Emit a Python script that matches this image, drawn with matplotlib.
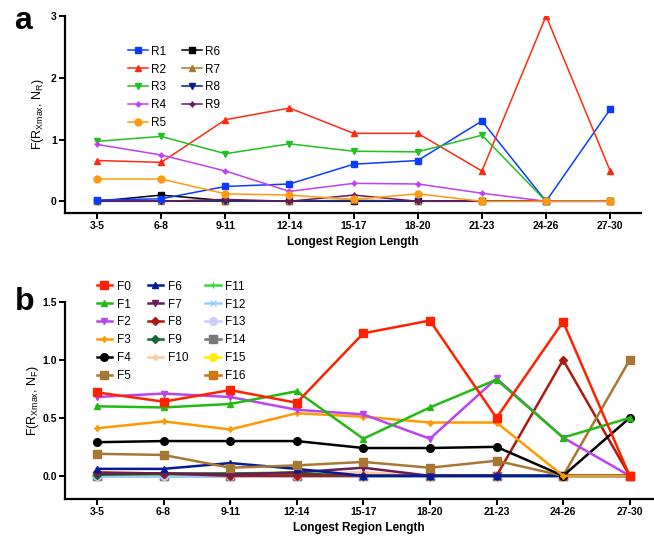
import matplotlib
matplotlib.use("Agg")
import matplotlib.pyplot as plt
from matplotlib.lines import Line2D

plt.rcParams["font.family"] = ["Liberation Sans", "DejaVu Sans"]
plt.rcParams["mathtext.fontset"] = "custom"
plt.rcParams["mathtext.rm"] = "Liberation Sans"
plt.rcParams["mathtext.it"] = "Liberation Sans"

lengths = ["3-5", "6-8", "9-11", "12-14", "15-17", "18-20", "21-23", "24-26", "27-30"]

# panel a: regions
r_labels = ["R1", "R2", "R3", "R4", "R5", "R6", "R7", "R8", "R9"]
R1 = [0.02, 0.04, 0.24, 0.28, 0.60, 0.66, 1.30, 0.0, 1.49]
R2 = [0.66, 0.63, 1.32, 1.51, 1.10, 1.10, 0.49, 3.0, 0.49]
R3 = [0.97, 1.05, 0.77, 0.93, 0.81, 0.80, 1.07, 0.0, 0.0]
R4 = [0.92, 0.75, 0.49, 0.16, 0.29, 0.28, 0.13, 0.0, 0.0]
R5 = [0.36, 0.36, 0.12, 0.10, 0.03, 0.12, 0.0, 0.0, 0.0]
R6 = [0.0, 0.10, 0.01, 0.0, 0.0, 0.0, 0.0, 0.0, 0.0]
R7 = [0.0, 0.0, 0.0, 0.0, 0.02, 0.0, 0.0, 0.0, 0.0]
R8 = [0.0, 0.0, 0.0, 0.0, 0.0, 0.0, 0.0, 0.0, 0.0]
R9 = [0.0, 0.0, 0.03, 0.0, 0.10, 0.0, 0.0, 0.0, 0.0]
r_values = [R1, R2, R3, R4, R5, R6, R7, R8, R9]
r_colors = ["#0a3cff", "#ff2a10", "#1fc01f", "#c040f0", "#ff9a10",
            "#000000", "#a87830", "#0a1a8c", "#6a1a5a"]
r_markers = ["s", "^", "v", (4, 1, 0), "o", "s", "^", "v", (4, 1, 0)]

# panel b: families
f_labels = ["F%d" % i for i in range(17)]
F0 = [0.72, 0.64, 0.74, 0.63, 1.23, 1.34, 0.50, 1.33, 0.0]
F1 = [0.60, 0.59, 0.62, 0.73, 0.32, 0.59, 0.83, 0.33, 0.50]
F2 = [0.68, 0.71, 0.68, 0.57, 0.53, 0.32, 0.84, 0.33, 0.0]
F3 = [0.41, 0.47, 0.40, 0.54, 0.51, 0.46, 0.46, 0.0, 0.0]
F4 = [0.29, 0.30, 0.30, 0.30, 0.24, 0.24, 0.25, 0.0, 0.50]
F5 = [0.19, 0.18, 0.07, 0.09, 0.12, 0.07, 0.13, 0.0, 1.0]
F6 = [0.06, 0.06, 0.11, 0.06, 0.0, 0.0, 0.0, 0.0, 0.0]
F7 = [0.02, 0.02, 0.01, 0.03, 0.07, 0.0, 0.0, 0.0, 0.0]
F8 = [0.03, 0.02, 0.0, 0.0, 0.0, 0.0, 0.0, 1.0, 0.0]
F9 = [0.01, 0.02, 0.02, 0.02, 0.0, 0.0, 0.0, 0.0, 0.0]
F10 = [0.02, 0.02, 0.01, 0.02, 0.03, 0.0, 0.0, 0.0, 0.0]
F11 = [0.01, 0.01, 0.02, 0.03, 0.0, 0.0, 0.0, 0.0, 0.0]
F12 = [0.0, 0.0, 0.0, 0.0, 0.0, 0.0, 0.0, 0.0, 0.0]
F13 = [0.0, 0.0, 0.0, 0.0, 0.0, 0.0, 0.0, 0.0, 0.0]
F14 = [0.0, 0.0, 0.0, 0.0, 0.0, 0.0, 0.0, 0.0, 0.0]
F15 = [0.0, 0.0, 0.0, 0.0, 0.0, 0.0, 0.0, 0.0, 0.0]
F16 = [0.0, 0.0, 0.0, 0.0, 0.0, 0.0, 0.0, 0.0, 0.0]
f_values = [F0, F1, F2, F3, F4, F5, F6, F7, F8, F9, F10, F11, F12, F13, F14, F15, F16]
f_colors = ["#ff2200", "#22bb11", "#bb44ee", "#ff9900", "#000000", "#a87832",
            "#001a99", "#6b1a5a", "#aa1a10", "#116633", "#ffc9a0", "#33dd33",
            "#99ccff", "#ccccff", "#777777", "#ffee00", "#cc7711"]
f_markers = ["s", "^", "v", (4, 1, 0), "o", "s", "^", "v", "D", "D", (4, 1, 0),
             "+", "x", "o", "s", "o", "s"]

fig = plt.figure(figsize=(6.54, 5.37), dpi=100)
ax_a = fig.add_axes([65 / 654, 1 - 213 / 537, 576 / 654, 197 / 537])
ax_b = fig.add_axes([65 / 654, 1 - 499 / 537, 588 / 654, 197 / 537])
xs = list(range(len(lengths)))


def style_axis(ax):
    for side in ["top", "right"]:
        ax.spines[side].set_visible(False)
    for side in ["left", "bottom"]:
        ax.spines[side].set_linewidth(1.6)
    ax.tick_params(width=1.4, length=4, labelsize=7.5, pad=2)
    ax.set_xticks(xs)
    ax.set_xticklabels(lengths, fontweight="bold")
    for t in ax.get_yticklabels():
        t.set_fontweight("bold")
    ax.set_xlabel("Longest Region Length", fontsize=8.5, fontweight="bold", labelpad=3)


# panel a
for lab, vals, col, mk in zip(r_labels, r_values, r_colors, r_markers):
    ms = 5 if mk in ("s", "o") else 4
    ax_a.plot(xs, vals, color=col, marker=mk, markersize=ms, linewidth=1.1, label=lab,
              zorder=3 if lab in ("R1", "R2", "R3", "R4", "R5") else 2)
ax_a.set_xlim(-0.5, 8.48)
ax_a.set_ylim(-0.19, 3)
ax_a.set_yticks([0, 1, 2, 3])
ax_a.set_yticklabels(["0", "1", "2", "3"])
style_axis(ax_a)
ax_a.set_ylabel(r"F(R$_{\mathregular{Xmax}}$, N$_{\mathregular{R}}$)", fontsize=9)
ax_a.yaxis.set_label_coords(-0.033, 0.5)
ax_a.legend(ncol=2, frameon=False, fontsize=8.5, handlelength=1.7, handletextpad=0.3,
            columnspacing=1.3, labelspacing=0.5, loc="upper left",
            bbox_to_anchor=(117 / 654, 1 - 35 / 537), bbox_transform=fig.transFigure)

# panel b
handles = []
for lab, vals, col, mk in zip(f_labels, f_values, f_colors, f_markers):
    ms = 5.5 if mk in ("s", "o") else 4.5
    ln, = ax_b.plot(xs, vals, color=col, marker=mk, markersize=ms, linewidth=1.8, label=lab,
                    zorder=20 - f_labels.index(lab))
    handles.append(ln)
# blank slot so the third column starts at F11
blank = Line2D([], [], linestyle="none", marker="none")
leg_handles = handles[:11] + [blank] + handles[11:]
leg_labels = f_labels[:11] + [""] + f_labels[11:]
ax_b.set_xlim(-0.48, 8.35)
ax_b.set_ylim(-0.2, 1.5)
ax_b.set_yticks([0.0, 0.5, 1.0, 1.5])
ax_b.set_yticklabels(["0.0", "0.5", "1.0", "1.5"])
style_axis(ax_b)
ax_b.set_ylabel(r"F(R$_{\mathregular{Xmax}}$, N$_{\mathregular{F}}$)", fontsize=9)
ax_b.yaxis.set_label_coords(-0.04, 0.5)
ax_b.legend(leg_handles, leg_labels, ncol=3, frameon=False, fontsize=8.5, handlelength=1.3,
            handletextpad=0.4, columnspacing=1.45, labelspacing=0.5, loc="upper left",
            bbox_to_anchor=(86 / 654, 1 - 270 / 537), bbox_transform=fig.transFigure)

fig.text(14 / 654, 1 - 21 / 537, "a", fontsize=23, fontweight="bold", va="center")
fig.text(15 / 654, 1 - 302 / 537, "b", fontsize=23, fontweight="bold", va="center")

fig.savefig("out.png", dpi=100)
